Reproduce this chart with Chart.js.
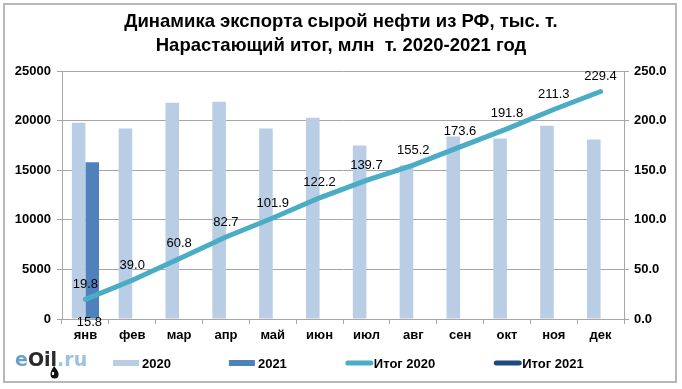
<!DOCTYPE html>
<html>
<head>
<meta charset="utf-8">
<script src="https://cdn.jsdelivr.net/npm/chart.js@4.4.1/dist/chart.umd.min.js"></script>
<style>
  html, body { margin: 0; padding: 0; background: #fff; }
  canvas { display: block; }
</style>
</head>
<body>
<canvas id="myChart" width="682" height="389"></canvas>
<script>
// chart data
var months = ['янв', 'фев', 'мар', 'апр', 'май', 'июн', 'июл', 'авг', 'сен', 'окт', 'ноя', 'дек'];
var export2020 = [19800, 19200, 21800, 21900, 19200, 20300, 17500, 15500, 18400, 18200, 19500, 18100];
var export2021 = [15800, null, null, null, null, null, null, null, null, null, null, null];
var total2020 = [19.8, 39.0, 60.8, 82.7, 101.9, 122.2, 139.7, 155.2, 173.6, 191.8, 211.3, 229.4];
var total2021 = [15.8];
var seriesNames = ['2020', '2021', 'Итог 2020', 'Итог 2021'];
var titleLines = ['Динамика экспорта сырой нефти из РФ, тыс. т.', 'Нарастающий итог, млн  т. 2020-2021 год'];

var FONT = '"Liberation Sans", Arial, sans-serif';
var gridColor = '#a6a6a6';

// white background + grey frame
var framePlugin = {
    id: 'frame',
    beforeDraw: function (chart) {
        var ctx = chart.ctx;
        ctx.save();
        ctx.fillStyle = '#fff';
        ctx.fillRect(0, 0, chart.width, chart.height);
        ctx.strokeStyle = '#b8b8b8';
        ctx.lineWidth = 2;
        ctx.strokeRect(4, 4, 672, 378);
        ctx.restore();
    }
};

// value labels on the totals lines
var labelPlugin = {
    id: 'pointLabels',
    afterDatasetsDraw: function (chart) {
        var ctx = chart.ctx;
        ctx.save();
        ctx.font = '13px ' + FONT;
        ctx.fillStyle = '#000';
        ctx.textAlign = 'center';
        ctx.textBaseline = 'middle';
        chart.getDatasetMeta(2).data.forEach(function (pt, i) {
            ctx.fillText(total2020[i].toFixed(1), pt.x, pt.y - 15);
        });
        chart.getDatasetMeta(3).data.forEach(function (pt, i) {
            ctx.fillText(total2021[i].toFixed(1), pt.x + 4, pt.y + 19);
        });
        ctx.restore();
    }
};

// legend row + eOil.ru logo
var legendPlugin = {
    id: 'bottomLegend',
    afterDraw: function (chart) {
        var ctx = chart.ctx;
        var y = 363;
        var x = 113;
        ctx.save();
        ctx.font = 'bold 13px ' + FONT;
        ctx.textBaseline = 'middle';
        ctx.textAlign = 'left';
        chart.data.datasets.forEach(function (ds) {
            if (ds.type === 'line') {
                ctx.strokeStyle = ds.borderColor;
                ctx.lineWidth = 5;
                ctx.lineCap = 'round';
                ctx.beginPath();
                ctx.moveTo(x + 3, y);
                ctx.lineTo(x + 26, y);
                ctx.stroke();
            } else {
                ctx.fillStyle = ds.backgroundColor;
                ctx.fillRect(x, y - 3, 26, 6);
            }
            ctx.fillStyle = '#000';
            ctx.fillText(ds.label, x + 29, y + 1);
            x += 29 + ctx.measureText(ds.label).width + 58;
        });

        // logo
        ctx.font = 'bold 19px "DejaVu Sans", sans-serif';
        ctx.textBaseline = 'alphabetic';
        var lx = 15, ly = 366;
        var parts = [['e', '#6a9fd2'], ['Oil', '#2a2a2a'], ['.ru', '#9ec0e4']];
        var lEnd = 0;
        parts.forEach(function (p) {
            ctx.fillStyle = p[1];
            ctx.fillText(p[0], lx, ly);
            lx += ctx.measureText(p[0]).width;
            if (p[0] === 'Oil') lEnd = lx;
        });
        // little oil drop under the "l"
        var dx = lEnd - 3;
        ctx.fillStyle = '#111';
        ctx.beginPath();
        ctx.moveTo(dx, 366);
        ctx.quadraticCurveTo(dx - 4, 372, dx - 3.5, 374.5);
        ctx.arc(dx + 0.5, 374.5, 4, Math.PI, 0, true);
        ctx.quadraticCurveTo(dx + 5, 372, dx, 366);
        ctx.fill();
        ctx.fillStyle = '#fff';
        ctx.fillRect(dx - 2, 372, 2, 3);
        ctx.restore();
    }
};

var ctx = document.getElementById('myChart').getContext('2d');
var chart = new Chart(ctx, {
    type: 'bar',
    data: {
        labels: months,
        datasets: [
            {
                label: seriesNames[0],
                data: export2020,
                backgroundColor: '#b9cde5',
                yAxisID: 'y',
                order: 3,
                barPercentage: 1.0,
                categoryPercentage: 0.58
            },
            {
                label: seriesNames[1],
                data: export2021,
                backgroundColor: '#4f81bd',
                yAxisID: 'y',
                order: 4,
                barPercentage: 1.0,
                categoryPercentage: 0.58
            },
            {
                type: 'line',
                label: seriesNames[2],
                data: total2020,
                borderColor: '#4bacc6',
                backgroundColor: '#4bacc6',
                borderWidth: 5,
                borderCapStyle: 'round',
                pointRadius: 0,
                tension: 0,
                yAxisID: 'y1',
                order: 1
            },
            {
                type: 'line',
                label: seriesNames[3],
                data: total2021,
                borderColor: '#1f497d',
                backgroundColor: '#1f497d',
                borderWidth: 5,
                pointRadius: 0,
                yAxisID: 'y1',
                order: 2
            }
        ]
    },
    options: {
        responsive: false,
        animation: false,
        layout: { padding: { left: 5, right: 5, top: 0, bottom: 40 } },
        plugins: {
            legend: { display: false },
            tooltip: { enabled: false },
            title: {
                display: true,
                text: titleLines,
                color: '#000',
                font: { family: FONT, size: 18.5, weight: 'bold', lineHeight: 1.3 },
                padding: { top: 10, bottom: 13 }
            }
        },
        scales: {
            x: {
                grid: { drawOnChartArea: false, color: gridColor, tickLength: 5, offset: true },
                border: { color: gridColor },
                ticks: { color: '#000', font: { family: FONT, size: 13, weight: 'bold' }, padding: 4 },
                afterFit: function (s) { s.height = 30; }
            },
            y: {
                position: 'left',
                min: 0,
                max: 25000,
                ticks: {
                    stepSize: 5000,
                    color: '#000',
                    font: { family: FONT, size: 13, weight: 'bold' },
                    padding: 6,
                    callback: function (v) { return String(v); }
                },
                grid: { color: gridColor, tickLength: 5 },
                border: { color: gridColor },
                afterFit: function (s) { s.width = 57; }
            },
            y1: {
                position: 'right',
                min: 0,
                max: 250,
                ticks: {
                    stepSize: 50,
                    color: '#000',
                    font: { family: FONT, size: 13, weight: 'bold' },
                    padding: 5,
                    callback: function (v) { return v.toFixed(1); }
                },
                grid: { drawOnChartArea: false, color: gridColor, tickLength: 5 },
                border: { color: gridColor },
                afterFit: function (s) { s.width = 53; }
            }
        }
    },
    plugins: [framePlugin, labelPlugin, legendPlugin]
});
</script>
</body>
</html>
